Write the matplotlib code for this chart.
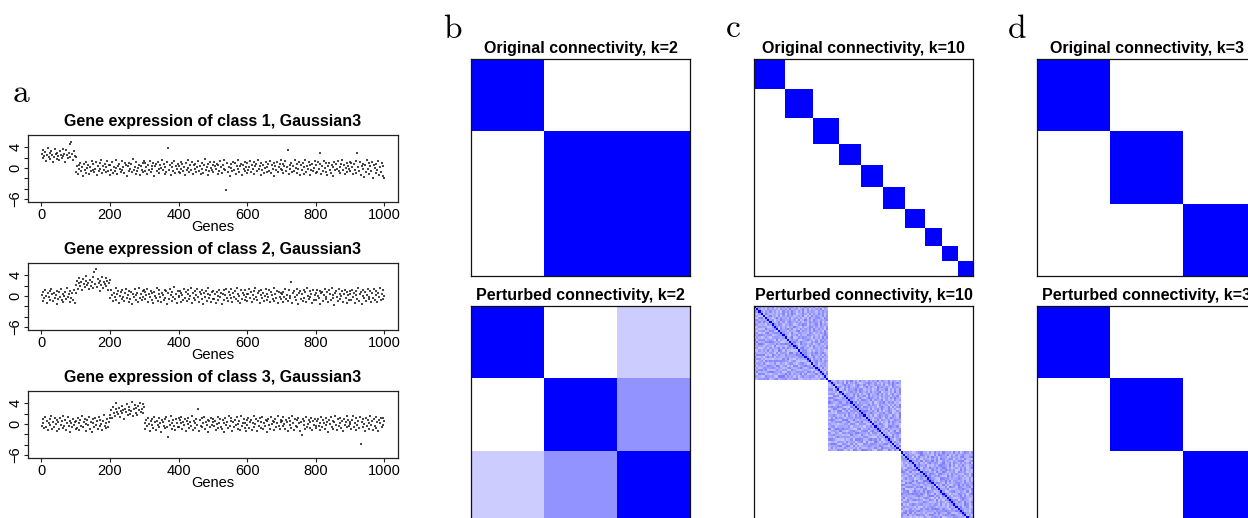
import numpy as np
import matplotlib
matplotlib.use("Agg")
import matplotlib.pyplot as plt
from matplotlib.colors import LinearSegmentedColormap

# ---------------------------------------------------------------------------
# Expression values (tenths), one list per 100-gene block, genes 1..1000
# ---------------------------------------------------------------------------
class1_expr = [
    [28, 35, 19, 24, 31, 14, 26, 38, 22, 17, 29, 33, 25, 12, 21, 36, 27, 18, 30, 24,
     15, 32, 26, 20, 37, 23, 28, 11, 34, 25, 19, 30, 22, 47, 50, 27, 16, 33, 24, 21],
    [-8, 3, -12, 5, -2, 10, -6, 1, -15, 7, -4, 12, -9, 0, 6, -11, 2, -5, 14, -3,
     8, -7, -1, 11, -13, 4, -6, 9, -2, 16, -10, 3, -4, 7, -8, 1, 13, -5, 5, -14],
    [6, -3, 11, -9, 2, -6, 15, 0, -12, 4, 8, -2, -7, 13, -4, 1, -10, 9, 5, -16,
     3, -5, 10, -1, 7, -8, 17, -3, 2, -11, 12, -6, 0, 6, -13, 4, -4, 9, -7, 14],
    [-5, 9, 1, -12, 6, -3, 14, -8, 3, -1, 10, -15, 4, 7, -6, 12, -2, -9, 5, 0,
     16, -4, 8, -11, 2, -7, 11, 38, -3, 6, -14, 1, 9, -5, 13, -10, 3, -2, 7, -8],
    [4, -10, 12, -1, 7, -6, 2, -13, 9, -4, 15, 0, -8, 5, -3, 11, -12, 6, -2, 8,
     -7, 1, 14, -5, 3, -11, 10, -1, -9, 6, 17, -4, 2, -14, 8, -6, 12, 0, -3, 5],
    [-7, 11, 3, -2, 8, -12, 5, -5, 13, 1, -9, 6, -1, 15, -4, -43, 9, -8, 2, -15,
     7, 0, -6, 12, -3, 10, -11, 4, -1, 16, -7, 3, 8, -13, 5, -2, 11, -5, 1, -9],
    [9, -4, 1, 14, -8, 6, -2, 11, -11, 3, 7, -6, 16, -1, 4, -13, 10, -3, 5, -9,
     0, 12, -7, 2, 8, -5, 13, -10, 6, -1, -15, 9, 3, -4, 11, -8, 1, 7, -2, 15],
    [-3, 8, -10, 4, 13, -6, 1, 34, -12, 6, -1, 10, -8, 3, -5, 15, 0, -9, 7, -2,
     12, -14, 5, -4, 9, 2, -11, 16, -7, 4, -1, 11, -13, 6, -3, 8, -6, 0, 14, -10],
    [5, -8, 12, -2, 7, 29, -11, 3, -5, 14, 0, -7, 9, -13, 4, 10, -3, -9, 6, 1,
     -15, 11, -4, 8, -1, 13, -6, 2, -10, 7, 16, -3, 5, -12, 0, 9, -7, 3, -1, 12],
    [-6, 10, 2, -12, 7, -3, 13, -9, 30, 1, -5, 11, -14, 4, -1, 8, -17, 6, -8, 15,
     -2, 9, -11, 3, -6, 12, -19, 5, 0, -10, 7, -4, 14, -13, 2, -7, 9, -15, 4, -20],
]

class2_expr = [
    [2, -9, 7, -4, 12, 0, -13, 5, -1, 9, -7, 14, 3, -10, 6, -3, 1, -16, 10, -5,
     8, -2, 13, -8, 4, -11, 0, 7, -6, 15, -1, 3, -12, 9, -4, 5, -8, 11, -14, 6],
    [22, 30, 14, 26, 35, 19, 27, 11, 32, 24, 17, 29, 38, 21, 25, 13, 31, 20, 28, 36,
     16, 47, 23, 52, 18, 33, 26, 9, 30, 22, 37, 15, 27, 24, 34, 19, 29, 12, 25, 31],
    [-4, 11, 1, -10, 6, -2, 15, -7, 3, 9, -13, 0, 7, -5, 12, -1, -9, 5, 14, -3,
     2, -12, 10, -6, 8, -15, 4, -1, 13, -8, 1, 6, -11, 16, -4, 3, -7, 9, -2, 11],
    [7, -6, 2, 13, -11, 4, -1, 10, -8, 5, -14, 8, 0, -4, 15, -9, 3, 11, -2, -12,
     6, 1, -7, 12, -3, 9, -16, 5, -5, 14, 2, -10, 8, -1, 17, -6, 4, -13, 10, 0],
    [-2, 9, -12, 5, 1, -7, 14, -4, 7, -10, 3, 12, -6, 0, 16, -13, 6, -3, 10, -8,
     2, 13, -1, -11, 8, 4, -5, 11, -15, 6, -2, 9, -9, 3, 15, -4, 1, -12, 7, -6],
    [10, -5, 3, -13, 8, 0, -8, 12, -2, 6, -16, 4, 11, -7, 1, 14, -4, -10, 7, 2,
     -3, 13, -12, 5, -1, 9, -6, 16, -9, 3, 0, -14, 11, -5, 6, 2, -8, 12, -1, 4],
    [-9, 4, 13, -3, 7, -12, 1, 10, -6, 15, -1, -8, 5, 9, -14, 2, 12, -4, 6, -10,
     0, 14, -7, 3, -2, 11, -11, 8, 1, -5, 16, -9, 4, -3, 10, -13, 7, -1, 5, -6],
    [3, -11, 8, -1, 14, -6, 2, -9, 11, 0, -4, 27, -13, 6, 9, -2, -7, 13, 1, -15,
     5, 10, -5, 3, -10, 12, -3, 7, -12, 15, 0, -6, 9, -1, 4, -14, 11, -8, 2, 6],
    [-7, 12, 0, -3, 9, -15, 5, 8, -10, 2, 13, -5, -1, 7, -12, 11, 3, -8, 16, -4,
     1, -18, 6, 10, -2, -9, 14, 4, -6, 0, 9, -11, 3, 12, -4, -13, 7, 1, -7, 10],
    [4, -8, 11, -2, 6, -13, 9, 1, -5, 15, -10, 3, 7, -16, 0, 12, -4, 8, -9, 2,
     14, -6, -1, 10, -12, 5, -3, 13, -7, 1, 9, -11, 6, -2, 16, -8, 3, -5, 11, 0],
]

class3_expr = [
    [-3, 10, 2, -8, 14, -5, 6, -12, 1, 9, -2, 15, -10, 4, -6, 12, 0, -14, 7, 3,
     -9, 11, -1, 5, -7, 16, -4, 8, -11, 2, 13, -3, -15, 6, 1, -6, 10, -1, 4, -9],
    [6, -7, 12, 1, -11, 8, -3, 15, -5, 3, 10, -13, 0, 7, -2, 13, -9, 4, -16, 9,
     2, -6, 11, -1, 5, -10, 14, -4, 8, 0, -12, 6, 17, -3, 1, -8, 9, -5, 3, 12],
    [18, 27, 12, 33, 22, 16, 29, 41, 24, 19, 31, 14, 26, 35, 21, 28, 10, 30, 23, 38,
     17, 27, 33, 20, 25, 42, 15, 29, 36, 22, 31, 18, 34, 27, 40, 24, 30, 38, 21, 33],
    [2, -9, 7, -4, 11, 0, -13, 5, 9, -2, -7, 14, 3, -11, 6, -1, 12, -6, 1, -15,
     8, 4, -3, 10, -8, 13, -5, -25, 6, -1, 15, -10, 2, 7, -4, -12, 9, 1, -6, 11],
    [-5, 8, 1, 13, -10, 4, -2, 9, -14, 6, 0, 12, -7, 3, -4, 16, -11, 5, 2, -8,
     10, -1, 30, -13, 7, -3, 11, -6, 1, 14, -9, 4, -1, 8, -15, 6, -5, 12, -2, 3],
    [9, -3, 5, -12, 0, 14, -7, 2, 10, -5, -10, 7, 1, -15, 12, -1, 4, -8, 16, -4,
     6, 11, -13, 3, -6, 8, -2, 13, -9, 0, 5, -11, 15, -3, 2, 9, -7, 1, -14, 7],
    [-1, 12, -8, 4, 7, -11, 2, 15, -5, 0, 9, -14, 6, -3, 11, -7, 3, 13, -10, 1,
     -4, 8, -16, 5, 10, -2, -9, 14, 0, 6, -12, 3, 9, -6, 1, 16, -3, -10, 7, 4],
    [6, -4, 13, 0, -9, 8, 3, -13, 11, -1, 5, -7, 15, 2, -11, 9, -3, 7, -6, 12,
     1, -14, 4, -22, 10, -2, 6, -10, 14, -5, 0, 8, -8, 3, 12, -12, 5, -1, 9, -4],
    [-8, 5, 10, -3, 1, -12, 14, -6, 7, 2, -10, 11, -1, 4, -15, 8, 0, 13, -5, 6,
     -9, 3, 16, -2, -11, 9, -4, 12, 1, -7, 5, -13, 10, -1, 3, 15, -6, 8, -3, 0],
    [3, -10, 8, 15, -5, 1, -12, 11, -2, 6, -8, 13, -38, 4, 9, -6, 0, -14, 12, -3,
     7, 2, -9, 16, -1, 5, -11, 10, -4, 14, -7, 3, -13, 8, 1, 11, -5, -2, 12, 6],
]

# ---------------------------------------------------------------------------
# Connectivity matrices
# ---------------------------------------------------------------------------
# k=2 clustering of the three classes (class 1 | classes 2+3)
b_original = [[1.0, 0.0, 0.0],
              [0.0, 1.0, 1.0],
              [0.0, 1.0, 1.0]]
b_perturbed = [[1.0, 0.0, 0.20],
               [0.0, 1.0, 0.42],
               [0.20, 0.42, 1.0]]

# k=10 clustering of 100 samples: cluster sizes along the diagonal
c_original_sizes = [14, 13, 12, 10, 10, 10, 9, 8, 7, 7]

# perturbed k=10: three groups; within-group co-clustering levels (0-9),
# upper triangle, row by row
c_perturbed_sizes = [34, 33, 33]
c_perturbed_levels = [
    "4635274815 3562947361 5274638152 4736251846 3517462935"
    "6248371526 4915362748 3625184739 5163827465 2738461953"
    "4526381749 6134852736 3847261594 5271638462 4639152837"
    "5382764159 3746281563 6152934784 2864715396 4573618249"
    "3619527468 5248371695 4736152847 6391527486 2548613759"
    "7163582946 4827361549 5316248736 3652718469 4815273648"
    "2937461856 5164389275 3728645193 6451832764 4286153749"
    "5631748263 3874526159 6249137586 4517362948 3758214695"
    "4162857369 5396421748 2784563195 6357148426 4923651738"
    "3546271894 6218537469 4873152636 5126843759 3695274186"
    "5471836249 2638459175 4915326847 3762814563 5284637192"
    "45362718493",
    "5247361859 3618452736 4927538164 2563847192 6384125796"
    "3715264839 5842136957 4169538274 3756281649 5238617493"
    "4682159374 2957463185 6314827569 4872536149 3549162738"
    "6135847296 4728356914 5261938475 3847162593 4593726158"
    "2476538194 5819264637 3652748159 6238415976 4715362849"
    "5364172985 3927548163 4183659274 5642813769 3758241596"
    "6249375184 4516283967 2874635159 5391726846 4628157393"
    "3852614798 5473926158 6127384596 4265937814 3946271585"
    "4731852964 2658417396 5386249175 3714865293 6152938647"
    "4597316284 3264751896 5819427363 4472638159 2835164797"
    "5318462749 3627415938 46271583",
    "3864125793 5172846395 4629371586 2738564149 6453182976"
    "4916273584 3548617294 5283946175 6137452893 3794528616"
    "5426381974 4871635293 3165749286 5938217464 2647893157"
    "4382516947 6159347285 3726481595 4814263797 5392716484"
    "2567184396 4835972614 6273815946 3418562759 5746129383"
    "4158736294 3962547186 5614283975 2795361846 4327618593"
    "6583219474 3746152896 4219867354 5863427193 3175948266"
    "4638271597 5291634785 3854716293 6127593848 4563281976"
    "2974368155 5813247696 4396125784 3652817941 5238746169"
    "3716459283 6485123797 4239671585 5147386294 3864529716"
    "4925713864 5368241795 38261749",
]

# k=3 clustering, unchanged after perturbation
d_original = np.eye(3)
d_perturbed = np.eye(3)

# ---------------------------------------------------------------------------
W, H = 1248, 518
plt.rcParams["font.family"] = ["Liberation Sans", "DejaVu Sans"]
plt.rcParams["mathtext.fontset"] = "cm"

fig = plt.figure(figsize=(W / 100, H / 100), dpi=100)


def px_axes(left, top, right, bottom):
    return fig.add_axes([left / W, 1 - bottom / H, (right - left) / W, (bottom - top) / H])


TITLE_SIZE = 11.5
TICK_SIZE = 10.5

# --- panel a: expression scatter plots -------------------------------------
for k, (blocks, top) in enumerate(zip([class1_expr, class2_expr, class3_expr],
                                      [135, 263, 391])):
    ax = px_axes(28, top, 398, top + 67)
    for b, vals in enumerate(blocks):
        v = np.asarray(vals, dtype=float) / 10.0
        x = np.linspace(b * 100 + 1, b * 100 + 100, len(v))
        ax.plot(x, v, ls="none", marker="s", ms=1.9, mew=0, color="#1a1a1a", alpha=0.8)
    ax.set_xlim(-39, 1040)
    ax.set_ylim(-6.6, 6.4)
    ax.set_xticks(range(0, 1001, 200))
    ax.set_yticks([-6, -4, -2, 0, 2, 4])
    ax.set_yticklabels(["\u22126", "", "", "0", "", "4"], rotation=90, va="center")
    ax.tick_params(length=3, width=0.8, pad=1, labelsize=TICK_SIZE, color="#222222")
    ax.set_xlabel("Genes", fontsize=TICK_SIZE, labelpad=-1)
    ax.set_title(f"Gene expression of class {k + 1}, Gaussian3",
                 fontweight="bold", fontsize=TITLE_SIZE, pad=6.5)
    for s in ax.spines.values():
        s.set_linewidth(0.9)
        s.set_color("#222222")

# --- panels b, c, d: connectivity heat maps --------------------------------
white_blue = LinearSegmentedColormap.from_list("white_blue", ["#FFFFFF", "#0000FF"])


def heat(left, top, M, title):
    ax = px_axes(left, top, left + 219, top + 217)
    ax.imshow(np.asarray(M, dtype=float), cmap=white_blue, vmin=0, vmax=1,
              interpolation="nearest", aspect="auto")
    ax.set_xticks([])
    ax.set_yticks([])
    ax.set_title(title, fontweight="bold", fontsize=TITLE_SIZE, pad=4)
    for s in ax.spines.values():
        s.set_linewidth(0.9)
        s.set_color("#111111")
    return ax


def membership_matrix(sizes):
    labels = np.repeat(np.arange(len(sizes)), sizes)
    return (labels[:, None] == labels[None, :]).astype(float)


def perturbed_matrix(sizes, levels):
    n_tot = sum(sizes)
    M = np.zeros((n_tot, n_tot))
    start = 0
    for n, lv in zip(sizes, levels):
        digits = np.array([int(ch) for ch in lv if ch.isdigit()], dtype=float)
        iu = np.triu_indices(n, 1)
        vals = 0.19 + 0.035 * digits[: len(iu[0])]
        B = np.eye(n)
        B[iu] = vals
        B[(iu[1], iu[0])] = vals
        M[start:start + n, start:start + n] = B
        start += n
    return M


heat(471, 59, b_original, "Original connectivity, k=2")
heat(471, 306, b_perturbed, "Perturbed connectivity, k=2")
heat(754, 59, membership_matrix(c_original_sizes), "Original connectivity, k=10")
heat(754, 306, perturbed_matrix(c_perturbed_sizes, c_perturbed_levels),
     "Perturbed connectivity, k=10")
heat(1037, 59, d_original, "Original connectivity, k=3")
heat(1037, 306, d_perturbed, "Perturbed connectivity, k=3")

# --- panel letters ----------------------------------------------------------
for letter, (lx, ly) in zip("abcd", [(12, 102), (443, 38), (725, 37), (1007, 38)]):
    fig.text(lx / W, 1 - ly / H, r"$\mathrm{%s}$" % letter, fontsize=24,
             ha="left", va="baseline")

fig.savefig("out.png", dpi=100)
